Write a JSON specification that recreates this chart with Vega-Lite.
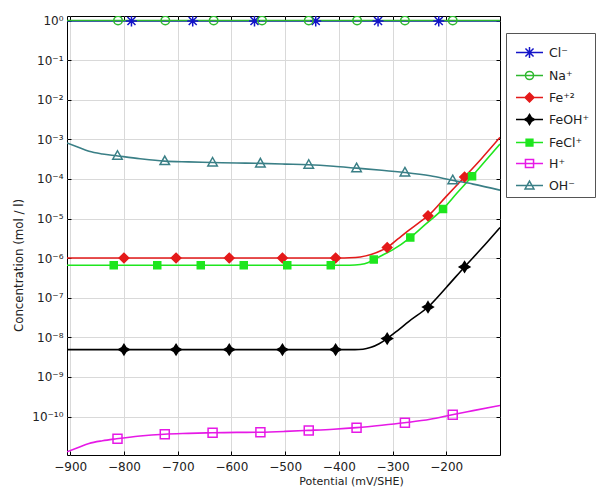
{
  "$schema": "https://vega.github.io/schema/vega-lite/v6.json",
  "width": 433,
  "height": 439,
  "autosize": {"type": "none"},
  "padding": {"left": 67, "top": 16, "right": 96, "bottom": 32},
  "background": "white",
  "config": {
    "view": {"stroke": "#000", "strokeWidth": 1},
    "font": "DejaVu Sans",
    "axis": {
      "labelFont": "DejaVu Sans",
      "labelFontSize": 12,
      "labelColor": "#222",
      "titleFont": "DejaVu Sans",
      "titleFontSize": 11,
      "titleFontWeight": "normal",
      "titleColor": "#222",
      "gridColor": "#d9d9d9",
      "gridWidth": 1,
      "tickColor": "#000",
      "domain": false
    }
  },
  "datasets": {
    "curves": [
      {"species": "Cl⁻", "x": -906, "c": 0.97},
      {"species": "Cl⁻", "x": -100, "c": 0.97},
      {"species": "Na⁺", "x": -906, "c": 1.0},
      {"species": "Na⁺", "x": -100, "c": 1.0},
      {"species": "Fe⁺²", "x": -906, "c": 1.01e-6},
      {"species": "Fe⁺²", "x": -400, "c": 1.01e-6},
      {"species": "Fe⁺²", "x": -380, "c": 1.02e-6},
      {"species": "Fe⁺²", "x": -360, "c": 1.07e-6},
      {"species": "Fe⁺²", "x": -340, "c": 1.23e-6},
      {"species": "Fe⁺²", "x": -320, "c": 1.58e-6},
      {"species": "Fe⁺²", "x": -310, "c": 1.86e-6},
      {"species": "Fe⁺²", "x": -290, "c": 3.05e-6},
      {"species": "Fe⁺²", "x": -270, "c": 5.0e-6},
      {"species": "Fe⁺²", "x": -250, "c": 8.05e-6},
      {"species": "Fe⁺²", "x": -234, "c": 1.17e-5},
      {"species": "Fe⁺²", "x": -200, "c": 3.63e-5},
      {"species": "Fe⁺²", "x": -166, "c": 1.12e-4},
      {"species": "Fe⁺²", "x": -135, "c": 3.2e-4},
      {"species": "Fe⁺²", "x": -100, "c": 1.12e-3},
      {"species": "FeOH⁺", "x": -906, "c": 4.9e-9},
      {"species": "FeOH⁺", "x": -370, "c": 4.9e-9},
      {"species": "FeOH⁺", "x": -355, "c": 5.0e-9},
      {"species": "FeOH⁺", "x": -340, "c": 5.6e-9},
      {"species": "FeOH⁺", "x": -325, "c": 6.9e-9},
      {"species": "FeOH⁺", "x": -310, "c": 9.3e-9},
      {"species": "FeOH⁺", "x": -290, "c": 1.51e-8},
      {"species": "FeOH⁺", "x": -270, "c": 2.51e-8},
      {"species": "FeOH⁺", "x": -234, "c": 5.83e-8},
      {"species": "FeOH⁺", "x": -200, "c": 1.82e-7},
      {"species": "FeOH⁺", "x": -166, "c": 6.0e-7},
      {"species": "FeOH⁺", "x": -135, "c": 1.72e-6},
      {"species": "FeOH⁺", "x": -100, "c": 5.94e-6},
      {"species": "FeCl⁺", "x": -906, "c": 6.6e-7},
      {"species": "FeCl⁺", "x": -380, "c": 6.6e-7},
      {"species": "FeCl⁺", "x": -360, "c": 6.9e-7},
      {"species": "FeCl⁺", "x": -345, "c": 7.8e-7},
      {"species": "FeCl⁺", "x": -335, "c": 9.2e-7},
      {"species": "FeCl⁺", "x": -320, "c": 1.17e-6},
      {"species": "FeCl⁺", "x": -300, "c": 1.62e-6},
      {"species": "FeCl⁺", "x": -267, "c": 3.31e-6},
      {"species": "FeCl⁺", "x": -240, "c": 6.9e-6},
      {"species": "FeCl⁺", "x": -206, "c": 1.75e-5},
      {"species": "FeCl⁺", "x": -180, "c": 4.39e-5},
      {"species": "FeCl⁺", "x": -152, "c": 1.17e-4},
      {"species": "FeCl⁺", "x": -125, "c": 3.09e-4},
      {"species": "FeCl⁺", "x": -100, "c": 7.59e-4},
      {"species": "H⁺", "x": -906, "c": 1.29e-11},
      {"species": "H⁺", "x": -885, "c": 1.66e-11},
      {"species": "H⁺", "x": -865, "c": 2.09e-11},
      {"species": "H⁺", "x": -840, "c": 2.45e-11},
      {"species": "H⁺", "x": -814, "c": 2.75e-11},
      {"species": "H⁺", "x": -770, "c": 3.24e-11},
      {"species": "H⁺", "x": -725, "c": 3.59e-11},
      {"species": "H⁺", "x": -680, "c": 3.76e-11},
      {"species": "H⁺", "x": -636, "c": 3.89e-11},
      {"species": "H⁺", "x": -590, "c": 3.98e-11},
      {"species": "H⁺", "x": -547, "c": 4.03e-11},
      {"species": "H⁺", "x": -500, "c": 4.22e-11},
      {"species": "H⁺", "x": -457, "c": 4.47e-11},
      {"species": "H⁺", "x": -410, "c": 4.79e-11},
      {"species": "H⁺", "x": -367, "c": 5.25e-11},
      {"species": "H⁺", "x": -320, "c": 6.03e-11},
      {"species": "H⁺", "x": -278, "c": 6.97e-11},
      {"species": "H⁺", "x": -230, "c": 8.51e-11},
      {"species": "H⁺", "x": -189, "c": 1.11e-10},
      {"species": "H⁺", "x": -150, "c": 1.41e-10},
      {"species": "H⁺", "x": -100, "c": 1.91e-10},
      {"species": "OH⁻", "x": -906, "c": 8.1e-4},
      {"species": "OH⁻", "x": -885, "c": 6.3e-4},
      {"species": "OH⁻", "x": -865, "c": 5.0e-4},
      {"species": "OH⁻", "x": -840, "c": 4.27e-4},
      {"species": "OH⁻", "x": -814, "c": 3.85e-4},
      {"species": "OH⁻", "x": -770, "c": 3.24e-4},
      {"species": "OH⁻", "x": -725, "c": 2.82e-4},
      {"species": "OH⁻", "x": -680, "c": 2.69e-4},
      {"species": "OH⁻", "x": -636, "c": 2.6e-4},
      {"species": "OH⁻", "x": -590, "c": 2.53e-4},
      {"species": "OH⁻", "x": -547, "c": 2.47e-4},
      {"species": "OH⁻", "x": -500, "c": 2.37e-4},
      {"species": "OH⁻", "x": -457, "c": 2.28e-4},
      {"species": "OH⁻", "x": -410, "c": 2.09e-4},
      {"species": "OH⁻", "x": -367, "c": 1.87e-4},
      {"species": "OH⁻", "x": -320, "c": 1.66e-4},
      {"species": "OH⁻", "x": -278, "c": 1.46e-4},
      {"species": "OH⁻", "x": -230, "c": 1.2e-4},
      {"species": "OH⁻", "x": -189, "c": 9.3e-5},
      {"species": "OH⁻", "x": -150, "c": 7.4e-5},
      {"species": "OH⁻", "x": -100, "c": 5.2e-5}
    ],
    "markers": [
      {"species": "Cl⁻", "x": -786, "c": 0.97},
      {"species": "Cl⁻", "x": -672, "c": 0.97},
      {"species": "Cl⁻", "x": -557, "c": 0.97},
      {"species": "Cl⁻", "x": -443, "c": 0.97},
      {"species": "Cl⁻", "x": -327, "c": 0.97},
      {"species": "Cl⁻", "x": -214, "c": 0.97},
      {"species": "Na⁺", "x": -811, "c": 1.0},
      {"species": "Na⁺", "x": -723, "c": 1.0},
      {"species": "Na⁺", "x": -633, "c": 1.0},
      {"species": "Na⁺", "x": -543, "c": 1.0},
      {"species": "Na⁺", "x": -456, "c": 1.0},
      {"species": "Na⁺", "x": -366, "c": 1.0},
      {"species": "Na⁺", "x": -277, "c": 1.0},
      {"species": "Na⁺", "x": -188, "c": 1.0},
      {"species": "Fe⁺²", "x": -800, "c": 1.01e-6},
      {"species": "Fe⁺²", "x": -703, "c": 1.01e-6},
      {"species": "Fe⁺²", "x": -604, "c": 1.01e-6},
      {"species": "Fe⁺²", "x": -505, "c": 1.01e-6},
      {"species": "Fe⁺²", "x": -406, "c": 1.01e-6},
      {"species": "Fe⁺²", "x": -310, "c": 1.86e-6},
      {"species": "Fe⁺²", "x": -234, "c": 1.17e-5},
      {"species": "Fe⁺²", "x": -166, "c": 1.12e-4},
      {"species": "FeOH⁺", "x": -800, "c": 4.9e-9},
      {"species": "FeOH⁺", "x": -703, "c": 4.9e-9},
      {"species": "FeOH⁺", "x": -604, "c": 4.9e-9},
      {"species": "FeOH⁺", "x": -505, "c": 4.9e-9},
      {"species": "FeOH⁺", "x": -406, "c": 4.9e-9},
      {"species": "FeOH⁺", "x": -310, "c": 9.3e-9},
      {"species": "FeOH⁺", "x": -234, "c": 5.83e-8},
      {"species": "FeOH⁺", "x": -166, "c": 6.0e-7},
      {"species": "FeCl⁺", "x": -819, "c": 6.6e-7},
      {"species": "FeCl⁺", "x": -738, "c": 6.6e-7},
      {"species": "FeCl⁺", "x": -657, "c": 6.6e-7},
      {"species": "FeCl⁺", "x": -577, "c": 6.6e-7},
      {"species": "FeCl⁺", "x": -496, "c": 6.6e-7},
      {"species": "FeCl⁺", "x": -415, "c": 6.6e-7},
      {"species": "FeCl⁺", "x": -335, "c": 9.2e-7},
      {"species": "FeCl⁺", "x": -267, "c": 3.31e-6},
      {"species": "FeCl⁺", "x": -206, "c": 1.75e-5},
      {"species": "FeCl⁺", "x": -152, "c": 1.17e-4},
      {"species": "H⁺", "x": -812, "c": 2.75e-11},
      {"species": "H⁺", "x": -724, "c": 3.59e-11},
      {"species": "H⁺", "x": -635, "c": 3.89e-11},
      {"species": "H⁺", "x": -546, "c": 4.03e-11},
      {"species": "H⁺", "x": -456, "c": 4.47e-11},
      {"species": "H⁺", "x": -367, "c": 5.25e-11},
      {"species": "H⁺", "x": -277, "c": 6.97e-11},
      {"species": "H⁺", "x": -188, "c": 1.11e-10},
      {"species": "OH⁻", "x": -812, "c": 3.85e-4},
      {"species": "OH⁻", "x": -724, "c": 2.82e-4},
      {"species": "OH⁻", "x": -635, "c": 2.6e-4},
      {"species": "OH⁻", "x": -546, "c": 2.47e-4},
      {"species": "OH⁻", "x": -456, "c": 2.28e-4},
      {"species": "OH⁻", "x": -367, "c": 1.87e-4},
      {"species": "OH⁻", "x": -277, "c": 1.46e-4},
      {"species": "OH⁻", "x": -188, "c": 9.3e-5}
    ],
    "legendrows": [
      {"species": "Cl⁻"}, {"species": "Na⁺"}, {"species": "Fe⁺²"}, {"species": "FeOH⁺"},
      {"species": "FeCl⁺"}, {"species": "H⁺"}, {"species": "OH⁻"}
    ]
  },
  "layer": [
    {
      "data": {"name": "curves"},
      "mark": {"type": "line", "strokeWidth": 1.6, "clip": true, "interpolate": "monotone"},
      "encoding": {
        "x": {
          "field": "x", "type": "quantitative",
          "scale": {"domain": [-906, -100], "nice": false, "zero": false},
          "axis": {
            "orient": "bottom",
            "values": [-900, -800, -700, -600, -500, -400, -300, -200],
            "grid": true, "ticks": true, "tickSize": -4, "labelPadding": 10,
            "title": "Potential (mV/SHE)",
            "titleX": 284, "titleY": 26, "titleBaseline": "middle", "titleAlign": "center"
          }
        },
        "y": {
          "field": "c", "type": "quantitative",
          "scale": {"type": "log", "domain": [1.07e-11, 1.3], "nice": false},
          "axis": {
            "orient": "left",
            "values": [1, 0.1, 0.01, 0.001, 0.0001, 0.00001, 0.000001, 1e-7, 1e-8, 1e-9, 1e-10],
            "labelExpr": "['10⁰','10⁻¹','10⁻²','10⁻³','10⁻⁴','10⁻⁵','10⁻⁶','10⁻⁷','10⁻⁸','10⁻⁹','10⁻¹⁰'][round(-log(datum.value)/LN10)]",
            "grid": true, "ticks": true, "tickSize": -4, "labelPadding": 8,
            "title": "Concentration  (mol / l)",
            "titleFontSize": 11.8,
            "titleX": -49, "titleY": 249, "titleBaseline": "middle", "titleAlign": "center"
          }
        },
        "color": {
          "field": "species", "type": "nominal",
          "scale": {
            "domain": ["Cl⁻", "Na⁺", "Fe⁺²", "FeOH⁺", "FeCl⁺", "H⁺", "OH⁻"],
            "range": ["#1414c8", "#2eb82e", "#e41a1a", "#000000", "#1ee61e", "#e619e6", "#3a7f86"]
          },
          "legend": null
        }
      }
    },
    {
      "data": {"name": "markers"},
      "mark": {"type": "point", "strokeWidth": 1.5, "size": 100, "opacity": 1, "clip": true},
      "encoding": {
        "x": {
          "field": "x", "type": "quantitative",
          "axis": {"orient": "top", "values": [-900, -800, -700, -600, -500, -400, -300, -200], "grid": false, "labels": false, "ticks": true, "tickSize": -4, "title": null}
        },
        "y": {
          "field": "c", "type": "quantitative",
          "axis": {"orient": "right", "values": [1, 0.1, 0.01, 0.001, 0.0001, 0.00001, 0.000001, 1e-7, 1e-8, 1e-9, 1e-10], "grid": false, "labels": false, "ticks": true, "tickSize": -4, "title": null}
        },
        "stroke": {
          "field": "species", "type": "nominal",
          "scale": {
            "domain": ["Cl⁻", "Na⁺", "Fe⁺²", "FeOH⁺", "FeCl⁺", "H⁺", "OH⁻"],
            "range": ["#1414c8", "#2eb82e", "#e41a1a", "#000000", "#1ee61e", "#e619e6", "#3a7f86"]
          },
          "legend": null
        },
        "fill": {
          "field": "species", "type": "nominal",
          "scale": {
            "domain": ["Cl⁻", "Na⁺", "Fe⁺²", "FeOH⁺", "FeCl⁺", "H⁺", "OH⁻"],
            "range": ["transparent", "transparent", "#e41a1a", "#000000", "#1ee61e", "transparent", "transparent"]
          },
          "legend": null
        },
        "shape": {
          "field": "species", "type": "nominal",
          "scale": {
            "domain": ["Cl⁻", "Na⁺", "Fe⁺²", "FeOH⁺", "FeCl⁺", "H⁺", "OH⁻"],
            "range": [
              "M0,-1.1V1.1M-1.1,0H1.1M-0.8,-0.8L0.8,0.8M-0.8,0.8L0.8,-0.8",
              "M0.85,0A0.85,0.85 0 1,1 -0.85,0A0.85,0.85 0 1,1 0.85,0Z",
              "M0,-0.95L0.95,0L0,0.95L-0.95,0Z",
              "M0,-1.05L0.4,-0.4L1.05,0L0.4,0.4L0,1.05L-0.4,0.4L-1.05,0L-0.4,-0.4Z",
              "M-0.7,-0.7H0.7V0.7H-0.7Z",
              "M-0.9,-0.9H0.9V0.9H-0.9Z",
              "M0,-1L0.95,0.7H-0.95Z"
            ]
          },
          "legend": null
        }
      }
    },
    {
      "data": {"name": "legendrows"},
      "transform": [{"filter": "false"}],
      "mark": {"type": "point", "strokeWidth": 1.5, "size": 729, "opacity": 1},
      "encoding": {
        "stroke": {
          "field": "species", "type": "nominal",
          "scale": {
            "domain": ["Cl⁻", "Na⁺", "Fe⁺²", "FeOH⁺", "FeCl⁺", "H⁺", "OH⁻"],
            "range": ["#1414c8", "#2eb82e", "#e41a1a", "#000000", "#1ee61e", "#e619e6", "#3a7f86"]
          },
          "legend": {"title": null, "orient": "none", "legendX": 439, "legendY": 17, "padding": 5, "symbolOffset": 4, "strokeColor": "#555", "fillColor": "#fff", "labelFont": "DejaVu Sans", "labelFontSize": 12.5, "labelColor": "#222", "labelOffset": 5, "rowPadding": -3.5, "symbolSize": 729, "symbolStrokeWidth": 1.5}
        },
        "fill": {
          "field": "species", "type": "nominal",
          "scale": {
            "domain": ["Cl⁻", "Na⁺", "Fe⁺²", "FeOH⁺", "FeCl⁺", "H⁺", "OH⁻"],
            "range": ["transparent", "transparent", "#e41a1a", "#000000", "#1ee61e", "transparent", "transparent"]
          },
          "legend": {"title": null, "orient": "none", "legendX": 439, "legendY": 17, "padding": 5, "symbolOffset": 4, "strokeColor": "#555", "fillColor": "#fff", "labelFont": "DejaVu Sans", "labelFontSize": 12.5, "labelColor": "#222", "labelOffset": 5, "rowPadding": -3.5, "symbolSize": 729, "symbolStrokeWidth": 1.5}
        },
        "shape": {
          "field": "species", "type": "nominal",
          "scale": {
            "domain": ["Cl⁻", "Na⁺", "Fe⁺²", "FeOH⁺", "FeCl⁺", "H⁺", "OH⁻"],
            "range": [
              "M-1,0H1M0,-0.4V0.4M-0.3,-0.3L0.3,0.3M-0.3,0.3L0.3,-0.3",
              "M-1,0H1M0.3,0A0.3,0.3 0 1,1 -0.3,0A0.3,0.3 0 1,1 0.3,0Z",
              "M-1,0H1M0,-0.33L0.33,0L0,0.33L-0.33,0Z",
              "M-1,0H1M0,-0.38L0.14,-0.14L0.38,0L0.14,0.14L0,0.38L-0.14,0.14L-0.38,0L-0.14,-0.14Z",
              "M-1,0H1M-0.25,-0.25H0.25V0.25H-0.25Z",
              "M-1,0H1M-0.3,-0.3H0.3V0.3H-0.3Z",
              "M-1,0H1M0,-0.33L0.33,0.25H-0.33Z"
            ]
          },
          "legend": {"title": null, "orient": "none", "legendX": 439, "legendY": 17, "padding": 5, "symbolOffset": 4, "strokeColor": "#555", "fillColor": "#fff", "labelFont": "DejaVu Sans", "labelFontSize": 12.5, "labelColor": "#222", "labelOffset": 5, "rowPadding": -3.5, "symbolSize": 729, "symbolStrokeWidth": 1.5}
        }
      }
    }
  ],
  "resolve": {
    "scale": {"stroke": "independent", "fill": "independent", "shape": "independent"},
    "axis": {"x": "independent", "y": "independent"}
  }
}
